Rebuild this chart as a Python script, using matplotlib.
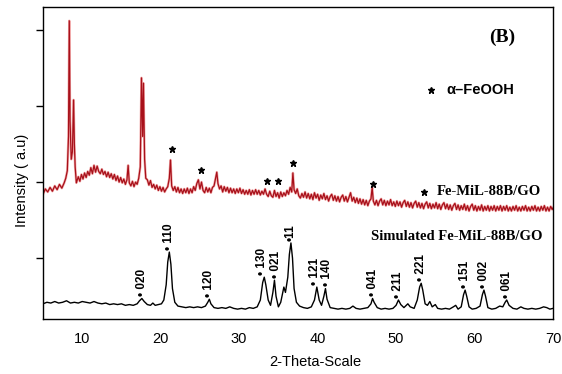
import numpy as np
import matplotlib
matplotlib.use("Agg")
import matplotlib.pyplot as plt

# ---------------- data ----------------
red_x = [5.0, 5.3, 5.6, 5.9, 6.2, 6.5, 6.8, 7.1, 7.4, 7.7, 7.9, 8.1, 8.25, 8.35, 8.45, 8.6, 8.75, 8.9, 9.0, 9.1,
         9.25, 9.5, 9.7, 9.9, 10.1, 10.3, 10.5, 10.7, 10.9, 11.1, 11.3, 11.5, 11.7, 11.9, 12.1, 12.3, 12.5, 12.7, 12.9, 13.1,
         13.3, 13.5, 13.7, 13.9, 14.1, 14.3, 14.5, 14.7, 14.9, 15.1, 15.3, 15.5, 15.7, 15.85, 16.0, 16.2, 16.4, 16.6, 16.8, 17.0,
         17.2, 17.4, 17.55, 17.7, 17.8, 17.95, 18.1, 18.3, 18.5, 18.7, 18.9, 19.1, 19.3, 19.5, 19.7, 19.9, 20.1, 20.3, 20.5, 20.7,
         20.9, 21.1, 21.25, 21.4, 21.6, 21.8, 22.0, 22.2, 22.4, 22.6, 22.8, 23.0, 23.2, 23.4, 23.6, 23.8, 24.0, 24.2, 24.4, 24.6,
         24.8, 25.0, 25.2, 25.4, 25.6, 25.8, 26.0, 26.2, 26.4, 26.6, 26.8, 27.0, 27.15, 27.3, 27.5, 27.7, 27.9, 28.1, 28.3, 28.5,
         28.7, 28.9, 29.1, 29.3, 29.5, 29.7, 29.9, 30.1, 30.3, 30.5, 30.7, 30.9, 31.1, 31.3, 31.5, 31.7, 31.9, 32.1, 32.3, 32.5,
         32.7, 32.9, 33.1, 33.3, 33.5, 33.7, 33.9, 34.1, 34.3, 34.5, 34.7, 34.9, 35.1, 35.3, 35.5, 35.7, 35.9, 36.1, 36.3, 36.5,
         36.7, 36.85, 37.0, 37.2, 37.4, 37.6, 37.8, 38.0, 38.2, 38.4, 38.6, 38.8, 39.0, 39.2, 39.4, 39.6, 39.8, 40.0, 40.2, 40.4,
         40.6, 40.8, 41.0, 41.2, 41.4, 41.6, 41.8, 42.0, 42.2, 42.4, 42.6, 42.8, 43.0, 43.2, 43.4, 43.6, 43.8, 44.0, 44.2, 44.4,
         44.6, 44.8, 45.0, 45.2, 45.4, 45.6, 45.8, 46.0, 46.2, 46.4, 46.6, 46.8, 46.95, 47.1, 47.3, 47.5, 47.7, 47.9, 48.1, 48.3,
         48.5, 48.7, 48.9, 49.1, 49.3, 49.5, 49.7, 49.9, 50.1, 50.3, 50.5, 50.7, 50.9, 51.1, 51.3, 51.5, 51.7, 51.9, 52.1, 52.3,
         52.5, 52.7, 52.9, 53.1, 53.3, 53.5, 53.7, 53.9, 54.1, 54.3, 54.5, 54.7, 54.9, 55.1, 55.3, 55.5, 55.7, 55.9, 56.1, 56.3,
         56.5, 56.7, 56.9, 57.1, 57.3, 57.5, 57.7, 57.9, 58.1, 58.3, 58.5, 58.7, 58.9, 59.1, 59.3, 59.5, 59.7, 59.9, 60.1, 60.3,
         60.5, 60.7, 60.9, 61.1, 61.3, 61.5, 61.7, 61.9, 62.1, 62.3, 62.5, 62.7, 62.9, 63.1, 63.3, 63.5, 63.7, 63.9, 64.1, 64.3,
         64.5, 64.7, 64.9, 65.1, 65.3, 65.5, 65.7, 65.9, 66.1, 66.3, 66.5, 66.7, 66.9, 67.1, 67.3, 67.5, 67.7, 67.9, 68.1, 68.3,
         68.5, 68.7, 68.9, 69.1, 69.3, 69.5, 69.7, 69.9, 70.0]
red_y = [1.84, 1.91, 1.87, 1.93, 1.88, 1.95, 1.90, 1.97, 1.92, 1.99, 2.05, 2.15, 2.60, 4.12, 2.80, 2.30, 2.40, 3.08, 2.50, 2.20,
         1.99, 2.07, 2.01, 2.10, 2.04, 2.12, 2.06, 2.14, 2.09, 2.19, 2.11, 2.22, 2.13, 2.21, 2.14, 2.11, 2.17, 2.10, 2.14, 2.07,
         2.13, 2.06, 2.11, 2.04, 2.10, 2.02, 2.08, 2.00, 2.06, 1.99, 2.04, 1.97, 2.03, 2.22, 1.99, 1.95, 2.01, 1.94, 2.00, 1.97,
         2.05, 2.20, 3.37, 2.60, 3.30, 2.30, 2.05, 2.03, 1.96, 2.02, 1.93, 1.97, 1.91, 1.96, 1.89, 1.94, 1.88, 1.93, 1.87, 1.91,
         1.94, 2.05, 2.29, 1.95, 1.89, 1.94, 1.87, 1.93, 1.86, 1.91, 1.85, 1.91, 1.86, 1.92, 1.85, 1.91, 1.86, 1.94, 1.89, 1.98,
         2.03, 1.91, 2.00, 1.89, 1.86, 1.93, 1.87, 1.92, 1.86, 1.93, 1.95, 2.05, 2.13, 1.98, 1.91, 1.95, 1.87, 1.94, 1.88, 1.93,
         1.86, 1.92, 1.86, 1.91, 1.85, 1.91, 1.86, 1.92, 1.85, 1.90, 1.84, 1.89, 1.84, 1.90, 1.83, 1.89, 1.84, 1.90, 1.84, 1.89,
         1.83, 1.88, 1.84, 1.91, 1.84, 1.81, 1.88, 1.82, 1.80, 1.89, 1.81, 1.86, 1.79, 1.87, 1.81, 1.86, 1.82, 1.89, 1.84, 1.93,
         1.87, 2.12, 1.90, 1.85, 1.91, 1.82, 1.79, 1.85, 1.80, 1.87, 1.79, 1.85, 1.78, 1.84, 1.77, 1.86, 1.79, 1.84, 1.76, 1.83,
         1.78, 1.85, 1.77, 1.82, 1.75, 1.81, 1.84, 1.76, 1.82, 1.75, 1.81, 1.74, 1.80, 1.83, 1.75, 1.81, 1.74, 1.80, 1.86, 1.75,
         1.80, 1.73, 1.79, 1.72, 1.78, 1.71, 1.77, 1.70, 1.76, 1.69, 1.75, 1.78, 1.93, 1.75, 1.70, 1.76, 1.69, 1.75, 1.78, 1.70,
         1.76, 1.69, 1.75, 1.70, 1.77, 1.69, 1.74, 1.68, 1.75, 1.69, 1.74, 1.67, 1.73, 1.76, 1.68, 1.74, 1.67, 1.73, 1.66, 1.72,
         1.75, 1.67, 1.73, 1.66, 1.72, 1.65, 1.71, 1.74, 1.66, 1.72, 1.65, 1.71, 1.66, 1.73, 1.65, 1.71, 1.64, 1.70, 1.73, 1.65,
         1.71, 1.64, 1.70, 1.63, 1.69, 1.72, 1.64, 1.70, 1.63, 1.69, 1.64, 1.71, 1.63, 1.69, 1.62, 1.68, 1.71, 1.63, 1.69, 1.62,
         1.68, 1.63, 1.70, 1.62, 1.68, 1.63, 1.69, 1.62, 1.68, 1.63, 1.69, 1.62, 1.68, 1.63, 1.69, 1.62, 1.68, 1.63, 1.69, 1.62,
         1.67, 1.62, 1.68, 1.63, 1.69, 1.62, 1.67, 1.62, 1.68, 1.63, 1.69, 1.62, 1.67, 1.62, 1.68, 1.63, 1.69, 1.62, 1.67, 1.62,
         1.68, 1.63, 1.69, 1.62, 1.67, 1.62, 1.68, 1.64, 1.66]

blk_x = [5.0, 5.5, 6.0, 6.5, 7.0, 7.5, 8.0, 8.5, 9.0, 9.5, 10.0, 10.5, 11.0, 11.5, 12.0, 12.5, 13.0, 13.5, 14.0, 14.5,
         15.0, 15.5, 16.0, 16.5, 17.0, 17.3, 17.6, 17.9, 18.3, 18.7, 19.0, 19.3, 19.7, 20.1, 20.4, 20.7, 20.9, 21.1, 21.3, 21.5,
         21.8, 22.2, 22.7, 23.2, 23.7, 24.2, 24.7, 25.2, 25.7, 26.0, 26.2, 26.4, 26.8, 27.3, 27.8, 28.3, 28.8, 29.3, 29.8, 30.3,
         30.8, 31.3, 31.8, 32.3, 32.7, 33.0, 33.2, 33.4, 33.7, 34.0, 34.3, 34.5, 34.7, 35.0, 35.3, 35.7, 35.9, 36.2, 36.4, 36.6,
         36.8, 37.0, 37.3, 37.7, 38.2, 38.7, 39.2, 39.6, 39.9, 40.2, 40.5, 40.8, 41.0, 41.2, 41.6, 42.1, 42.6, 43.1, 43.6, 44.1,
         44.5, 44.9, 45.4, 45.9, 46.4, 46.8, 47.0, 47.2, 47.6, 48.1, 48.6, 49.1, 49.6, 50.0, 50.3, 50.6, 51.0, 51.5, 51.8, 52.3,
         52.7, 53.0, 53.2, 53.4, 53.7, 54.0, 54.3, 54.6, 55.0, 55.3, 55.8, 56.3, 56.8, 57.3, 57.6, 57.9, 58.3, 58.6, 58.8, 59.0,
         59.3, 59.7, 60.2, 60.7, 61.0, 61.2, 61.4, 61.7, 62.2, 62.7, 63.2, 63.6, 63.9, 64.1, 64.4, 64.9, 65.4, 65.9, 66.3, 66.8,
         67.3, 67.8, 68.3, 68.8, 69.2, 69.6, 70.0]
blk_y = [0.40, 0.42, 0.41, 0.43, 0.41, 0.42, 0.44, 0.41, 0.42, 0.41, 0.43, 0.42, 0.41, 0.43, 0.41, 0.40, 0.41, 0.39, 0.40, 0.39,
         0.40, 0.38, 0.39, 0.38, 0.40, 0.44, 0.47, 0.43, 0.39, 0.38, 0.41, 0.38, 0.39, 0.40, 0.45, 0.65, 0.95, 1.08, 0.92, 0.60,
         0.42, 0.37, 0.36, 0.35, 0.36, 0.35, 0.36, 0.35, 0.37, 0.42, 0.46, 0.40, 0.35, 0.34, 0.35, 0.34, 0.36, 0.34, 0.33, 0.34,
         0.33, 0.35, 0.34, 0.36, 0.45, 0.68, 0.75, 0.65, 0.45, 0.38, 0.55, 0.71, 0.50, 0.36, 0.42, 0.62, 0.55, 0.75, 1.05, 1.20,
         1.00, 0.60, 0.42, 0.37, 0.35, 0.34, 0.36, 0.45, 0.62, 0.45, 0.38, 0.50, 0.60, 0.46, 0.35, 0.34, 0.33, 0.34, 0.33, 0.34,
         0.37, 0.34, 0.33, 0.34, 0.35, 0.40, 0.47, 0.42, 0.35, 0.33, 0.34, 0.33, 0.34, 0.38, 0.45, 0.39, 0.35, 0.40, 0.36, 0.34,
         0.45, 0.62, 0.67, 0.58, 0.40, 0.38, 0.43, 0.36, 0.39, 0.34, 0.33, 0.34, 0.33, 0.36, 0.38, 0.33, 0.36, 0.52, 0.58, 0.50,
         0.36, 0.33, 0.34, 0.37, 0.52, 0.58, 0.50, 0.35, 0.33, 0.34, 0.37, 0.36, 0.42, 0.45, 0.38, 0.34, 0.33, 0.36, 0.34, 0.33,
         0.34, 0.33, 0.34, 0.36, 0.35, 0.33, 0.34]

peak_labels = ["020", "110", "120", "130", "021", "11", "121", "140", "041", "211", "221", "151", "002", "061"]
peak_pos = [17.6, 21.1, 26.2, 33.2, 34.5, 36.6, 39.9, 41.0, 47.0, 50.3, 53.2, 58.8, 61.2, 64.1]
label_x = [17.6, 21.1, 26.2, 32.95, 34.75, 36.6, 39.65, 41.25, 47.0, 50.3, 53.2, 58.8, 61.2, 64.1]

star_x = [21.5, 25.1, 33.5, 35.0, 36.85, 47.0]
star_y = [2.43, 2.16, 2.01, 2.01, 2.25, 1.97]

xticks = [10, 20, 30, 40, 50, 60, 70]
yticks = [1, 2, 3, 4]

# ---------------- figure ----------------
fig = plt.figure(figsize=(5.62, 3.74), dpi=100)
ax = fig.add_axes([0.0765, 0.147, 0.9075, 0.834])

ax.plot(red_x, red_y, color="#e86a6a", lw=1.8, alpha=0.55, solid_joinstyle="round")
ax.plot(red_x, red_y, color="#a8101a", lw=0.9)
ax.plot(blk_x, blk_y, color="black", lw=1.0)

ax.plot(star_x, star_y, ls="none", marker="*", ms=5, color="black")

sans = ["Liberation Sans", "DejaVu Sans"]
serif = ["Liberation Serif", "DejaVu Serif"]

for lab, px, lx in zip(peak_labels, peak_pos, label_x):
    top = np.interp(px, blk_x, blk_y)
    ax.text(lx, top + 0.03, "\u2022 " + lab if lab != "11" else "\u202211", rotation=90,
            ha="center", va="bottom", fontsize=8.5, fontweight="bold", family=sans)

ax.set_xlim(5, 70)
ax.set_ylim(0.2, 4.3)
ax.set_xticks(xticks)
ax.set_xticklabels([str(t) for t in xticks], family=sans, fontsize=10.5)
ax.set_yticks(yticks)
ax.set_yticklabels([])
ax.tick_params(axis="x", length=0, pad=9)
ax.tick_params(axis="y", direction="out", length=5, width=1)
for s in ax.spines.values():
    s.set_linewidth(1.0)

ax.text(63.5, 3.90, "(B)", family=serif, fontweight="bold", fontsize=14, ha="center", va="center")
ax.plot([54.4], [3.21], ls="none", marker="*", ms=5, color="black")
ax.text(56.4, 3.21, "\u03b1\u2013FeOOH", family=sans, fontweight="bold", fontsize=10.5, ha="left", va="center")
ax.plot([53.5], [1.87], ls="none", marker="*", ms=5, color="black")
ax.text(55.2, 1.87, "Fe-MiL-88B/GO", family=serif, fontweight="bold", fontsize=10.5, ha="left", va="center")
ax.text(46.8, 1.28, "Simulated Fe-MiL-88B/GO", family=serif, fontweight="bold", fontsize=10.5, ha="left", va="center")

fig.text(315 / 562, 1 - 362 / 374, "2-Theta-Scale", family=sans, fontsize=10.5, ha="center", va="center")
fig.text(22 / 562, 1 - 180 / 374, "Intensity ( a.u)", family=sans, fontsize=10.5, ha="center", va="center", rotation=90)

fig.savefig("out.png", dpi=100)
